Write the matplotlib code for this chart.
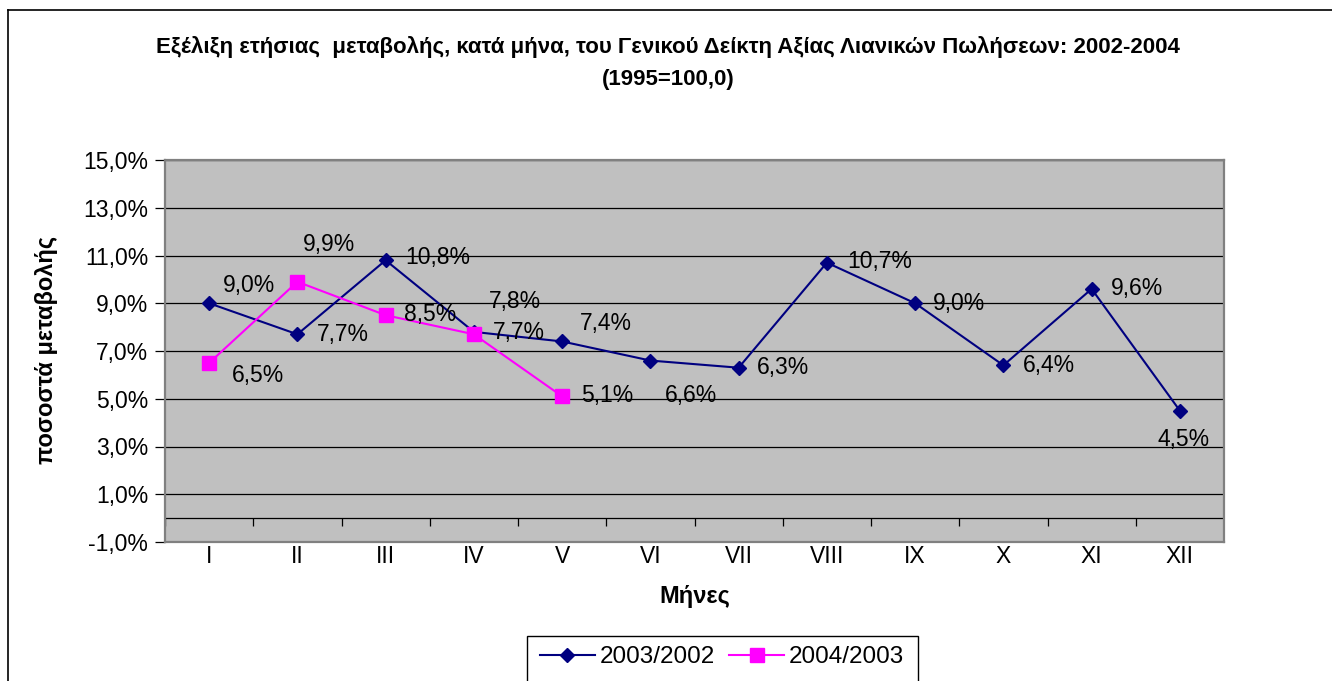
import numpy as np
import matplotlib.pyplot as plt
from matplotlib.lines import Line2D
from matplotlib.patches import Rectangle

plt.rcParams['font.family'] = ['Liberation Sans', 'DejaVu Sans']

months = ['I', 'II', 'III', 'IV', 'V', 'VI', 'VII', 'VIII', 'IX', 'X', 'XI', 'XII']
s2003 = [9.0, 7.7, 10.8, 7.8, 7.4, 6.6, 6.3, 10.7, 9.0, 6.4, 9.6, 4.5]
s2004 = [6.5, 9.9, 8.5, 7.7, 5.1]
yticks = [-1, 1, 3, 5, 7, 9, 11, 13, 15]

# label offsets in pixels (left edge of text relative to point)
off2003 = [(14, 18), (20, 0), (20, 3), (15, 30), (18, 18), (14, -35),
           (18, 0), (20, 1), (18, 0), (19, 0), (19, 0), (-22, -29)]
off2004 = [(23, -13), (6, 37), (18, 1), (19, 2), (19, 1)]

W, H = 1332, 681
fig = plt.figure(figsize=(W / 100, H / 100), dpi=100)
ax = fig.add_axes([165 / W, 1 - 542 / H, (1224 - 165) / W, (542 - 160) / H])
ax.set_facecolor('#C0C0C0')

x1 = np.arange(1, len(s2003) + 1)
x2 = np.arange(1, len(s2004) + 1)
ax.set_xlim(0.5, 12.5)
ax.set_ylim(-1, 15)

for y in yticks[1:]:
    ax.axhline(y, color='black', lw=0.9, zorder=1)
ax.axhline(0, color='black', lw=0.9, zorder=1)
ax.vlines(np.arange(0.5, 13), -0.35, 0, color='black', lw=0.9, zorder=1)

ax.plot(x1, s2003, color='#000080', lw=1.5, marker='D', ms=7, zorder=3,
        label='2003/2002')
ax.plot(x2, s2004, color='#FF00FF', lw=1.5, marker='s', ms=9.5, zorder=3,
        label='2004/2003')


def fmt(v):
    return f'{v:.1f}%'.replace('.', ',')


for xi, v, (dx, dy) in zip(x1, s2003, off2003):
    ax.annotate(fmt(v), (xi, v), xytext=(dx, dy), textcoords='offset pixels',
                ha='left', va='center', fontsize=16.5, zorder=4)
for xi, v, (dx, dy) in zip(x2, s2004, off2004):
    ax.annotate(fmt(v), (xi, v), xytext=(dx, dy), textcoords='offset pixels',
                ha='left', va='center', fontsize=16.5, zorder=4)

ax.set_yticks(yticks)
ax.set_yticklabels([fmt(v) for v in yticks], fontsize=16.5)
ax.tick_params(axis='y', length=7, width=0.9, pad=5)
ax.set_xticks(x1)
ax.set_xticklabels(months, fontsize=16.5)
ax.tick_params(axis='x', length=0, pad=2)
for sp in ax.spines.values():
    sp.set_color('#808080')
    sp.set_linewidth(1.6)

fig.text(695 / W, 1 - 597 / H, 'Μήνες', ha='center', va='center',
         fontsize=17, fontweight='bold')
fig.text(47 / W, 1 - 350 / H, 'ποσοστά μεταβολής', ha='center', va='center',
         rotation=90, fontsize=17, fontweight='bold')

fig.text(668 / W, 1 - 47 / H, 'Εξέλιξη ετήσιας  μεταβολής, κατά μήνα, του Γενικού Δείκτη Αξίας Λιανικών Πωλήσεων: 2002-2004',
         ha='center', va='center', fontsize=16, fontweight='bold')
fig.text(668 / W, 1 - 80 / H, '(1995=100,0)', ha='center', va='center',
         fontsize=16, fontweight='bold')

# chart frame
fig.add_artist(Line2D([8 / W, 8 / W], [0, 1 - 10 / H], color='black', lw=1.2))
fig.add_artist(Line2D([8 / W, 1], [1 - 10 / H, 1 - 10 / H], color='black', lw=1.2))

# legend
fig.add_artist(Rectangle((527 / W, -10 / H), (918 - 527) / W, (681 + 10 - 636) / H,
                         transform=fig.transFigure, fill=False, ec='black', lw=1.0))
leg = fig.legend(loc='center', bbox_to_anchor=(722 / W, 1 - 657 / H), ncol=2,
                 frameon=False, fontsize=17.5, handlelength=2.26,
                 handletextpad=0.2, columnspacing=0.6)

fig.savefig('out.png', dpi=100)
